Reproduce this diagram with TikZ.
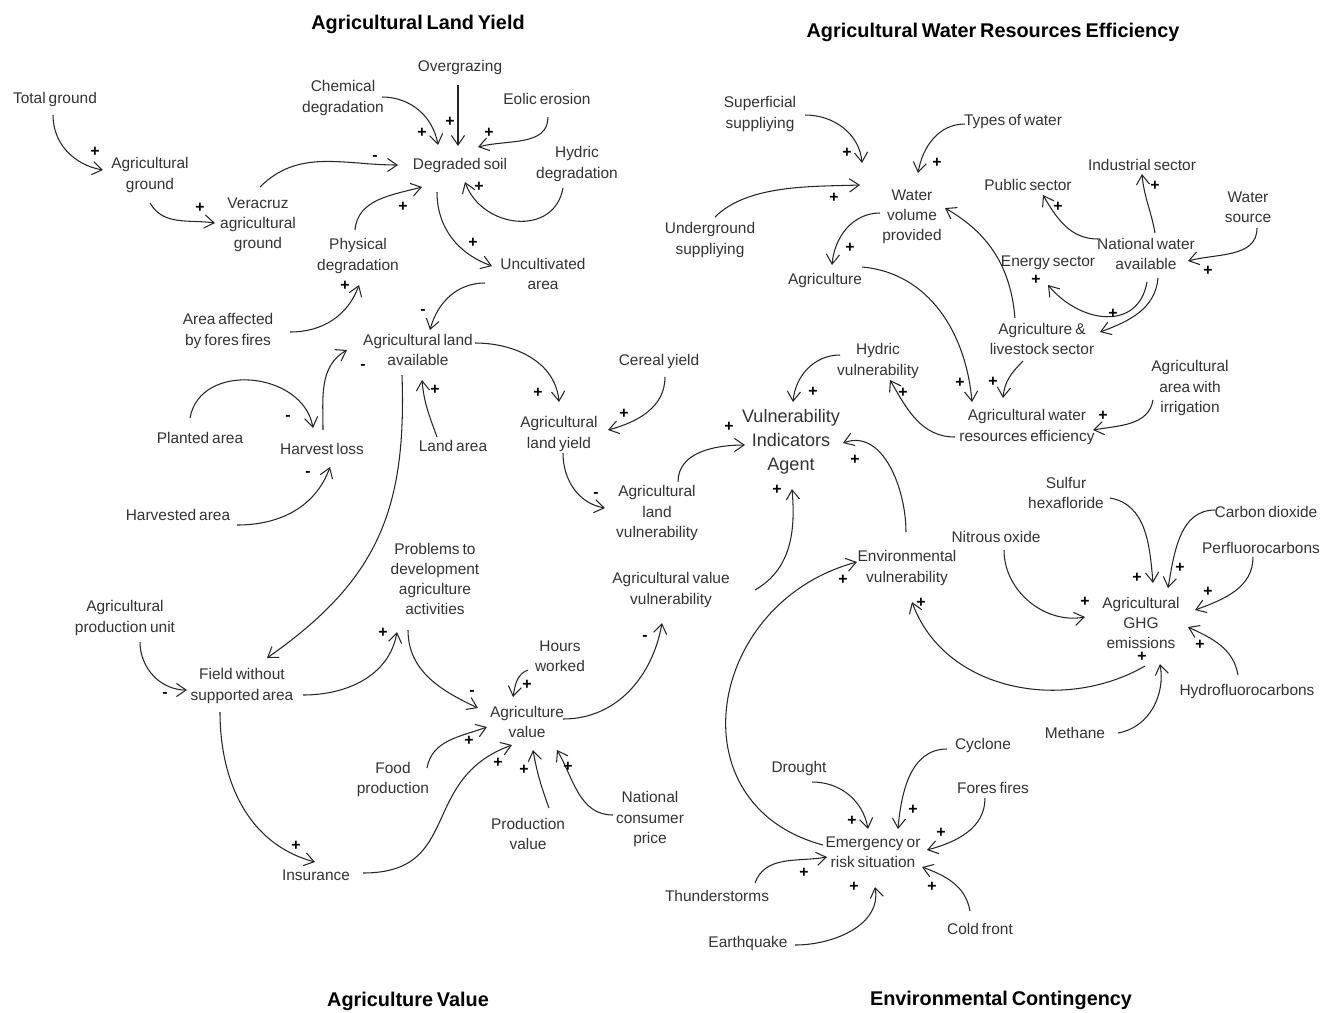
\documentclass[tikz,border=0pt]{standalone}
\usepackage{fontspec}
\setmainfont{Liberation Sans}[WordSpace=0.7]
\usetikzlibrary{arrows.meta,calc}

\begin{document}
\begin{tikzpicture}[x=0.02cm, y=0.02cm,
    varnode/.style={align=center, inner sep=0pt, text=black!80, font=\fontsize{8.8}{11.4}\selectfont},
    vianode/.style={varnode, font=\fontsize{10.3}{13.7}\selectfont},
    headline/.style={inner sep=0pt, font=\fontsize{11.3}{13}\selectfont\bfseries},
    cause/.style={line width=0.6pt, draw=black!85, -{Straight Barb[length=5.5pt,width=7.5pt]}},
    sgn/.style={inner sep=0pt, font=\fontsize{9}{9}\selectfont\bfseries}]
    \useasboundingbox (0,0) rectangle (1332,-1012);

    % section titles
    \node[headline] (tland) at (418,-24) {Agricultural Land Yield};
    \node[headline] (twater) at (993,-32) {Agricultural Water Resources Efficiency};
    \node[headline] (tvalue) at (408,-1001) {Agriculture Value};
    \node[headline] (tcont) at (1001,-1000) {Environmental Contingency};

    % agricultural land yield
    \node[varnode] (tg) at (55,-99) {Total ground};
    \node[varnode] (agg) at (150,-175) {Agricultural\\ground};
    \node[varnode] (vag) at (258,-225) {Veracruz\\agricultural\\ground};
    \node[varnode] (chd) at (343,-98) {Chemical\\degradation};
    \node[varnode] (ovg) at (460,-67) {Overgrazing};
    \node[varnode] (eol) at (547,-99) {Eolic erosion};
    \node[varnode] (deg) at (460,-165) {Degraded soil};
    \node[varnode] (hyd) at (577,-164) {Hydric\\degradation};
    \node[varnode] (phd) at (358,-256) {Physical\\degradation};
    \node[varnode] (unc) at (543,-274) {Uncultivated\\area};
    \node[varnode] (aff) at (228,-331) {Area affected\\by fores fires};
    \node[varnode] (ala) at (418,-350) {Agricultural land\\available};
    \node[varnode] (pla) at (200,-438) {Planted area};
    \node[varnode] (hvl) at (322,-449) {Harvest loss};
    \node[varnode] (lan) at (453,-446) {Land area};
    \node[varnode] (hva) at (178,-515) {Harvested area};
    \node[varnode] (cer) at (659,-361) {Cereal yield};
    \node[varnode] (aly) at (559,-434) {Agricultural\\land yield};
    \node[varnode] (alv) at (657,-513) {Agricultural\\land\\vulnerability};

    % indicators agent
    \node[vianode] (via) at (791,-442) {Vulnerability\\Indicators\\Agent};
    \node[varnode] (hyv) at (878,-361) {Hydric\\vulnerability};
    \node[varnode] (avv) at (671,-590) {Agricultural value\\vulnerability};
    \node[varnode] (env) at (907,-568) {Environmental\\vulnerability};

    % agricultural water resources efficiency
    \node[varnode] (awr) at (1027,-427) {Agricultural water\\resources efficiency};
    \node[varnode] (irr) at (1190,-388) {Agricultural\\area with\\irrigation};
    \node[varnode] (sup) at (760,-114) {Superficial\\suppliying};
    \node[varnode] (tow) at (1013,-122) {Types of water};
    \node[varnode] (wvp) at (912,-217) {Water\\volume\\provided};
    \node[varnode] (und) at (710,-240) {Underground\\suppliying};
    \node[varnode] (agr) at (825,-280) {Agriculture};
    \node[varnode] (ind) at (1142,-165) {Industrial sector};
    \node[varnode] (pub) at (1028,-185) {Public sector};
    \node[varnode] (wsr) at (1248,-207) {Water\\source};
    \node[varnode] (nwa) at (1146,-254) {National water\\available};
    \node[varnode] (ens) at (1048,-263) {Energy sector};
    \node[varnode] (als) at (1042,-339) {Agriculture \&\\livestock sector};

    % agriculture value
    \node[varnode] (pdv) at (435,-579) {Problems to\\development\\agriculture\\activities};
    \node[varnode] (apu) at (125,-618) {Agricultural\\production unit};
    \node[varnode] (fws) at (242,-686) {Field without\\supported area};
    \node[varnode] (hwk) at (560,-656) {Hours\\worked};
    \node[varnode] (agv) at (527,-722) {Agriculture\\value};
    \node[varnode] (fpr) at (393,-779) {Food\\production};
    \node[varnode] (pva) at (528,-834) {Production\\value};
    \node[varnode] (ncp) at (650,-819) {National\\consumer\\price};
    \node[varnode] (ins) at (316,-875) {Insurance};

    % environmental contingency
    \node[varnode] (sul) at (1066,-493) {Sulfur\\hexafloride};
    \node[varnode] (co2) at (1266,-512) {Carbon dioxide};
    \node[varnode] (nit) at (996,-537) {Nitrous oxide};
    \node[varnode] (pfc) at (1261,-548) {Perfluorocarbons};
    \node[varnode] (ghg) at (1141,-623) {Agricultural\\GHG\\emissions};
    \node[varnode] (hfc) at (1247,-691) {Hydrofluorocarbons};
    \node[varnode] (met) at (1075,-733) {Methane};
    \node[varnode] (cyc) at (983,-745) {Cyclone};
    \node[varnode] (dro) at (799,-768) {Drought};
    \node[varnode] (ffi) at (993,-788) {Fores fires};
    \node[varnode] (emr) at (873,-852) {Emergency or\\risk situation};
    \node[varnode] (thu) at (717,-896) {Thunderstorms};
    \node[varnode] (cfr) at (980,-929) {Cold front};
    \node[varnode] (eqk) at (748,-943) {Earthquake};

    % links
    \draw[cause] ($(tg)+(-2,-16)$) to[out=-90,in=170] ($(agg)+(-47,5)$);
    \draw[cause] ($(agg)+(0,-28)$) to[out=-60,in=172] ($(vag)+(-43,2)$);
    \draw[cause] ($(vag)+(2,38)$) to[out=45,in=180] ($(deg)+(-62,0)$);
    \draw[cause] ($(chd)+(39,1)$) to[out=0,in=100] ($(deg)+(-22,20)$);
    \draw[cause] ($(ovg)+(-2,-18)$) -- ($(deg)+(-2,19)$);
    \draw[cause] ($(eol)+(1,-18)$) to[out=-90,in=15] ($(deg)+(18,18)$);
    \draw[cause] ($(hyd)+(-14,-24)$) to[out=-100,in=-70,looseness=1.3] ($(deg)+(5,-17)$);
    \draw[cause] ($(phd)+(-3,26)$) to[out=85,in=195] ($(deg)+(-38,-22)$);
    \draw[cause] ($(deg)+(-23,-27)$) to[out=-90,in=160] ($(unc)+(-51,8)$);
    \draw[cause] ($(aff)+(62,-1)$) to[out=0,in=-110] ($(phd)+(1,-29)$);
    \draw[cause] ($(unc)+(-58,-9)$) to[out=180,in=75] ($(ala)+(12,20)$);
    \draw[cause] ($(hvl)+(1,19)$) to[out=90,in=210] ($(ala)+(-71,0)$);
    \draw[cause] ($(lan)+(-16,9)$) to[out=110,in=-85] ($(ala)+(4,-30)$);
    \draw[cause] ($(pla)+(-10,20)$) to[out=80,in=100,looseness=1.2] ($(hvl)+(-9,21)$);
    \draw[cause] ($(hva)+(59,-10)$) to[out=0,in=-110] ($(hvl)+(8,-18)$);
    \draw[cause] ($(ala)+(57,7)$) to[out=0,in=95] ($(aly)+(0,32)$);
    \draw[cause] ($(cer)+(6,-16)$) to[out=-90,in=15] ($(aly)+(49,4)$);
    \draw[cause] ($(aly)+(4,-19)$) to[out=-90,in=170] ($(alv)+(-52,5)$);
    \draw[cause] ($(ala)+(-16,-25)$) to[out=-88,in=35,looseness=1.1] ($(fws)+(25,28)$);
    \draw[cause] ($(alv)+(21,31)$) to[out=90,in=180] ($(via)+(-46,-3)$);
    \draw[cause] ($(avv)+(84,0)$) to[out=30,in=-85] ($(via)+(1,-47)$);
    \draw[cause] ($(hyv)+(-38,6)$) to[out=180,in=85] ($(via)+(2,40)$);
    \draw[cause] ($(env)+(-1,36)$) to[out=90,in=20] ($(via)+(52,-1)$);
    \draw[cause] ($(awr)+(-72,-10)$) to[out=180,in=-60] ($(hyv)+(12,-19)$);
    \draw[cause] ($(agr)+(37,13)$) to[out=-5,in=95] ($(awr)+(-55,25)$);
    \draw[cause] ($(als)+(-19,-22)$) to[out=-135,in=85] ($(awr)+(-24,29)$);
    \draw[cause] ($(irr)+(-37,-12)$) to[out=-100,in=10] ($(awr)+(66,-3)$);
    \draw[cause] ($(sup)+(45,-1)$) to[out=0,in=95] ($(wvp)+(-50,54)$);
    \draw[cause] ($(und)+(5,23)$) to[out=45,in=182,looseness=0.8] ($(wvp)+(-52,32)$);
    \draw[cause] ($(tow)+(-48,-2)$) to[out=180,in=80] ($(wvp)+(6,44)$);
    \draw[cause] ($(wvp)+(-32,4)$) to[out=180,in=85] ($(agr)+(7,15)$);
    \draw[cause] ($(als)+(-27,21)$) to[out=95,in=-30] ($(wvp)+(33,9)$);
    \draw[cause] ($(nwa)+(-48,15)$) to[out=180,in=-60] ($(pub)+(15,-10)$);
    \draw[cause] ($(nwa)+(9,21)$) to[out=100,in=-85] ($(ind)+(0,-9)$);
    \draw[cause] ($(wsr)+(9,-21)$) to[out=-90,in=15] ($(nwa)+(42,-7)$);
    \draw[cause] ($(nwa)+(1,-28)$) to[out=-100,in=-50,looseness=1.3] ($(ens)+(0,-22)$);
    \draw[cause] ($(nwa)+(12,-24)$) to[out=-95,in=20] ($(als)+(58,7)$);
    \draw[cause] ($(agv)+(36,3)$) to[out=0,in=-100] ($(avv)+(-9,-33)$);
    \draw[cause] ($(pdv)+(-27,-51)$) to[out=-90,in=155] ($(agv)+(-49,14)$);
    \draw[cause] ($(fws)+(61,-9)$) to[out=0,in=-100] ($(pdv)+(-38,-53)$);
    \draw[cause] ($(apu)+(15,-24)$) to[out=-90,in=180] ($(fws)+(-55,-4)$);
    \draw[cause] ($(fws)+(-22,-26)$) to[out=-90,in=165] ($(ins)+(-1,13)$);
    \draw[cause] ($(ins)+(47,2)$) to[out=0,in=200,looseness=1.3] ($(agv)+(-15,-23)$);
    \draw[cause] ($(fpr)+(34,11)$) to[out=80,in=200] ($(agv)+(-40,-5)$);
    \draw[cause] ($(hwk)+(-32,-14)$) to[out=200,in=80] ($(agv)+(-14,25)$);
    \draw[cause] ($(pva)+(21,26)$) to[out=110,in=-80] ($(agv)+(6,-28)$);
    \draw[cause] ($(ncp)+(-37,4)$) to[out=180,in=-60] ($(agv)+(30,-28)$);
    \draw[cause] ($(sul)+(44,-5)$) to[out=-10,in=95] ($(ghg)+(12,40)$);
    \draw[cause] ($(co2)+(-51,2)$) to[out=180,in=80] ($(ghg)+(27,35)$);
    \draw[cause] ($(pfc)+(-8,-9)$) to[out=-90,in=20] ($(ghg)+(54,13)$);
    \draw[cause] ($(nit)+(8,-13)$) to[out=-90,in=190] ($(ghg)+(-56,6)$);
    \draw[cause] ($(hfc)+(-9,16)$) to[out=100,in=-25] ($(ghg)+(47,-4)$);
    \draw[cause] ($(met)+(43,0)$) to[out=10,in=-80] ($(ghg)+(19,-41)$);
    \draw[cause] ($(ghg)+(4,-43)$) to[out=-150,in=-70] ($(env)+(5,-34)$);
    \draw[cause] ($(emr)+(-50,7)$) to[out=165,in=195,looseness=1.4] ($(env)+(-50,6)$);
    \draw[cause] ($(dro)+(13,-14)$) to[out=0,in=100] ($(emr)+(-5,23)$);
    \draw[cause] ($(cyc)+(-36,-4)$) to[out=180,in=85] ($(emr)+(25,23)$);
    \draw[cause] ($(ffi)+(-8,-10)$) to[out=-90,in=15] ($(emr)+(54,2)$);
    \draw[cause] ($(cfr)+(-10,18)$) to[out=100,in=-20] ($(emr)+(49,-15)$);
    \draw[cause] ($(thu)+(38,13)$) to[out=70,in=190] ($(emr)+(-46,-5)$);
    \draw[cause] ($(eqk)+(47,-2)$) to[out=0,in=-80] ($(emr)+(2,-35)$);

    % polarity signs
    \foreach \x/\y [count=\i] in {95/152, 200/208, 422/133, 450/122, 489/133, 479/187,
        403/207, 473/243, 345/286, 435/390, 538/393, 624/414, 729/427, 777/490,
        813/392, 855/460, 903/393, 960/383, 993/382, 1103/416, 847/153, 834/198,
        937/163, 850/248, 1058/207, 1155/186, 1208/271, 1036/280, 1113/314,
        383/633, 296/846, 498/763, 469/741, 527/685, 524/770, 568/767, 1137/578,
        1180/568, 1208/592, 1085/602, 1200/645, 1142/657, 921/603, 843/580,
        852/821, 913/810, 941/833, 932/887, 804/873, 854/887}
        \node[sgn] (plus\i) at (\x,-\y) {+};
    \foreach \x/\y [count=\i] in {375/158, 423/312, 363/367, 288/418, 308/474,
        596/495, 645/638, 472/693, 165/695}
        \node[sgn] (minus\i) at (\x,-\y) {-};
\end{tikzpicture}
\end{document}
